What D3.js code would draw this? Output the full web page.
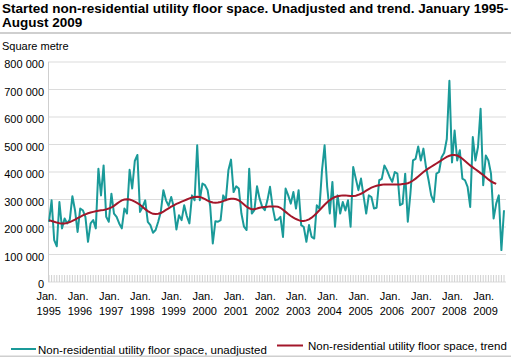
<!DOCTYPE html>
<html><head><meta charset="utf-8">
<script src="https://cdn.jsdelivr.net/npm/d3@7"></script>
<style>body{margin:0;background:#fff}svg{display:block;font-family:"Liberation Sans",Arial,Helvetica,sans-serif}</style>
</head><body>
<svg id="c" width="511" height="357"></svg>
<script>
const titleLines = ["Started non-residential utility floor space. Unadjusted and trend. January 1995-", "August 2009"];
const unitLabel = "Square metre";
const tickYears = ["1995","1996","1997","1998","1999","2000","2001","2002","2003","2004","2005","2006","2007","2008","2009"];
const yTicks = [0,100000,200000,300000,400000,500000,600000,700000,800000];
const seriesNames = ["Non-residential utility floor space, unadjusted","Non-residential utility floor space, trend"];
// Monthly, January 1995 - August 2009 (square metres)
const unadjusted = [
219000,297000,152000,130000,291000,195000,231000,213000,227000,312000,261000,182000,
267000,261000,237000,146000,213000,225000,195000,412000,315000,424000,237000,219000,
321000,249000,237000,213000,195000,267000,249000,408000,340000,440000,462000,255000,
273000,297000,219000,207000,179000,189000,219000,255000,334000,297000,277000,309000,
273000,191000,243000,225000,279000,240000,213000,315000,297000,497000,297000,358000,
352000,334000,275000,140000,221000,219000,225000,315000,297000,406000,445000,327000,
348000,340000,249000,201000,189000,412000,249000,261000,348000,303000,273000,261000,
297000,346000,273000,225000,227000,237000,164000,340000,315000,285000,327000,267000,
334000,207000,200000,146000,207000,164000,158000,279000,267000,406000,497000,346000,
249000,364000,201000,315000,249000,291000,260000,297000,201000,418000,376000,334000,
376000,312000,249000,315000,309000,267000,270000,370000,375000,424000,406000,382000,
364000,400000,394000,279000,285000,394000,219000,321000,442000,448000,493000,442000,
485000,418000,370000,315000,291000,394000,400000,454000,470000,520000,732000,435000,
551000,442000,479000,376000,370000,346000,273000,527000,442000,491000,630000,352000,
460000,442000,394000,231000,285000,315000,116000,261000
];
const trend = [
225000,222000,219000,216000,214000,213000,213000,215000,218000,222000,227000,232000,
237000,242000,246000,250000,253000,255000,257000,259000,261000,262000,264000,267000,
271000,277000,284000,291000,297000,300000,301000,300000,297000,292000,287000,281000,
273000,265000,258000,252000,248000,247000,248000,251000,256000,262000,268000,274000,
279000,284000,288000,292000,296000,300000,304000,307000,309000,310000,309000,306000,
301000,296000,292000,289000,288000,289000,291000,294000,298000,301000,303000,303000,
301000,297000,290000,282000,274000,268000,265000,265000,267000,270000,272000,273000,
274000,275000,275000,275000,274000,270000,263000,255000,247000,240000,234000,229000,
225000,222000,222000,224000,228000,234000,242000,251000,261000,271000,281000,290000,
298000,304000,309000,312000,314000,315000,315000,314000,313000,313000,314000,317000,
321000,326000,332000,338000,343000,347000,350000,352000,354000,355000,355000,355000,
355000,355000,355000,355000,356000,357000,359000,363000,369000,376000,384000,392000,
400000,407000,413000,419000,425000,431000,437000,443000,449000,455000,459000,462000,
462000,460000,455000,448000,440000,432000,424000,417000,410000,403000,396000,389000,
381000,373000,366000,361000,357000
];

const svg = d3.select("#c");
const x = d3.scaleLinear().domain([0, unadjusted.length - 1]).range([49, 504]);
const y = d3.scaleLinear().domain([0, 800000]).range([282, 62]);
const fmt = v => d3.format(",")(v).replace(/,/g, " ");

// title
svg.append("g").selectAll("text").data(titleLines).join("text")
  .attr("x", 2).attr("y", (d, i) => 12.5 + i * 14.5)
  .attr("font-size", 13.5).attr("font-weight", "bold").attr("fill", "#000").text(d => d);
svg.append("rect").attr("x", 0).attr("y", 32).attr("width", 511).attr("height", 2).attr("fill", "#cfcfcf");
svg.append("text").attr("x", 2).attr("y", 50).attr("font-size", 11).attr("fill", "#000").text(unitLabel);

// grid
svg.append("g").selectAll("line").data(yTicks).join("line")
  .attr("x1", 48).attr("x2", 506).attr("y1", d => y(d)).attr("y2", d => y(d))
  .attr("stroke", "#dcdcdc").attr("stroke-width", 1.2);
svg.append("line").attr("x1", 48.5).attr("x2", 48.5).attr("y1", y(800000)).attr("y2", y(0))
  .attr("stroke", "#cfcfcf");
svg.append("g").selectAll("text").data(yTicks).join("text")
  .attr("x", 44).attr("y", d => y(d) + 6).attr("text-anchor", "end")
  .attr("font-size", 11).attr("fill", "#000").text(d => fmt(d));

// month ticks
svg.append("g").selectAll("line").data(d3.range(unadjusted.length)).join("line")
  .attr("x1", d => x(d)).attr("x2", d => x(d)).attr("y1", 275).attr("y2", 282)
  .attr("stroke", "#d0d0d0").attr("stroke-width", 1);

// x labels
const xl = svg.append("g").selectAll("g").data(tickYears).join("g")
  .attr("transform", (d, i) => `translate(${x(i * 12) - 12.5},0)`);
xl.append("text").attr("y", 300).attr("font-size", 11).attr("fill", "#000").text("Jan.");
xl.append("text").attr("y", 315).attr("font-size", 11).attr("fill", "#000").text(d => d);

// lines
const line = d3.line().x((d, i) => x(i)).y(d => y(d));
svg.append("path").datum(unadjusted).attr("d", line).attr("fill", "none")
  .attr("stroke", "#1a9a99").attr("stroke-width", 2).attr("stroke-linejoin", "round");
svg.append("path").datum(trend).attr("d", line).attr("fill", "none")
  .attr("stroke", "#a3172a").attr("stroke-width", 2);

// legend
svg.append("line").attr("x1", 11).attr("x2", 36).attr("y1", 349).attr("y2", 349)
  .attr("stroke", "#1a9a99").attr("stroke-width", 2);
svg.append("text").attr("x", 38).attr("y", 353.5).attr("font-size", 11.5).attr("fill", "#000").text(seriesNames[0]);
svg.append("line").attr("x1", 277).attr("x2", 303).attr("y1", 345.5).attr("y2", 345.5)
  .attr("stroke", "#a3172a").attr("stroke-width", 2);
svg.append("text").attr("x", 308).attr("y", 349.5).attr("font-size", 11.5).attr("fill", "#000").text(seriesNames[1]);
svg.append("rect").attr("x", 0).attr("y", 355.5).attr("width", 511).attr("height", 1.5).attr("fill", "#cfcfcf");
</script>
</body></html>
